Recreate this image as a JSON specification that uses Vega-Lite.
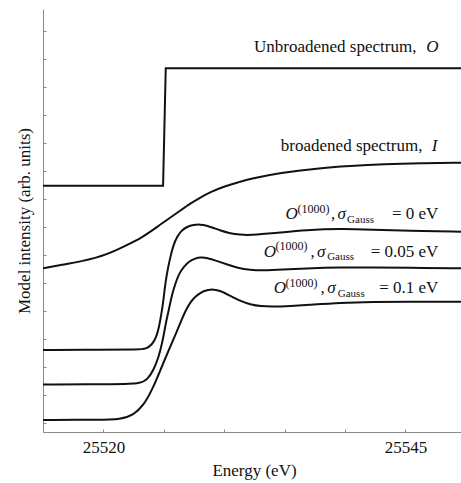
{
  "$schema": "https://vega.github.io/schema/vega-lite/v6.json",
  "width": 418,
  "height": 423,
  "autosize": {"type": "none"},
  "padding": {"left": 43, "top": 9, "right": 0, "bottom": 51},
  "background": "white",
  "config": {
    "view": {"stroke": null},
    "axis": {
      "grid": false,
      "domainColor": "#8a8a8a",
      "tickColor": "#8a8a8a",
      "domainWidth": 1,
      "tickWidth": 1,
      "labelFont": "Liberation Serif",
      "titleFont": "Liberation Serif",
      "labelFontSize": 17,
      "titleFontSize": 17,
      "titleFontWeight": "normal",
      "labelColor": "#111",
      "titleColor": "#111"
    },
    "text": {"font": "Liberation Serif", "color": "#111"}
  },
  "datasets": {
    "step": [
      {"E": 25515.0, "I": 8.469},
      {"E": 25524.94, "I": 8.469},
      {"E": 25525.16, "I": 12.659},
      {"E": 25549.6, "I": 12.659}
    ],
    "curves": [
      {"s": "I", "E": 25515.0, "I": 5.521},
      {"s": "I", "E": 25516.44, "I": 5.639},
      {"s": "I", "E": 25518.1, "I": 5.757},
      {"s": "I", "E": 25520.31, "I": 5.996},
      {"s": "I", "E": 25522.24, "I": 6.413},
      {"s": "I", "E": 25523.06, "I": 6.592},
      {"s": "I", "E": 25523.89, "I": 6.827},
      {"s": "I", "E": 25524.72, "I": 7.084},
      {"s": "I", "E": 25525.55, "I": 7.334},
      {"s": "I", "E": 25526.37, "I": 7.584},
      {"s": "I", "E": 25527.2, "I": 7.834},
      {"s": "I", "E": 25528.03, "I": 8.048},
      {"s": "I", "E": 25528.86, "I": 8.244},
      {"s": "I", "E": 25530.1, "I": 8.458},
      {"s": "I", "E": 25531.34, "I": 8.612},
      {"s": "I", "E": 25532.17, "I": 8.72},
      {"s": "I", "E": 25534.65, "I": 8.93},
      {"s": "I", "E": 25537.69, "I": 9.09},
      {"s": "I", "E": 25540.45, "I": 9.172},
      {"s": "I", "E": 25543.18, "I": 9.235},
      {"s": "I", "E": 25546.24, "I": 9.272},
      {"s": "I", "E": 25549.6, "I": 9.29},
      {"s": "s0", "E": 25515.0, "I": 2.605},
      {"s": "s0", "E": 25519.75, "I": 2.612},
      {"s": "s0", "E": 25523.06, "I": 2.623},
      {"s": "s0", "E": 25523.48, "I": 2.641},
      {"s": "s0", "E": 25524.03, "I": 2.784},
      {"s": "s0", "E": 25524.39, "I": 3.08},
      {"s": "s0", "E": 25524.59, "I": 3.39},
      {"s": "s0", "E": 25524.86, "I": 4.033},
      {"s": "s0", "E": 25525.01, "I": 4.532},
      {"s": "s0", "E": 25525.13, "I": 4.996},
      {"s": "s0", "E": 25525.34, "I": 5.532},
      {"s": "s0", "E": 25525.55, "I": 5.935},
      {"s": "s0", "E": 25525.79, "I": 6.353},
      {"s": "s0", "E": 25526.1, "I": 6.649},
      {"s": "s0", "E": 25526.46, "I": 6.87},
      {"s": "s0", "E": 25526.93, "I": 7.006},
      {"s": "s0", "E": 25527.45, "I": 7.074},
      {"s": "s0", "E": 25528.03, "I": 7.088},
      {"s": "s0", "E": 25528.53, "I": 7.05},
      {"s": "s0", "E": 25529.13, "I": 6.96},
      {"s": "s0", "E": 25529.69, "I": 6.87},
      {"s": "s0", "E": 25530.37, "I": 6.78},
      {"s": "s0", "E": 25531.34, "I": 6.715},
      {"s": "s0", "E": 25532.17, "I": 6.705},
      {"s": "s0", "E": 25534.07, "I": 6.77},
      {"s": "s0", "E": 25536.86, "I": 6.888},
      {"s": "s0", "E": 25539.62, "I": 6.935},
      {"s": "s0", "E": 25542.35, "I": 6.9},
      {"s": "s0", "E": 25545.14, "I": 6.863},
      {"s": "s0", "E": 25549.6, "I": 6.827},
      {"s": "s05", "E": 25515.0, "I": 1.374},
      {"s": "s05", "E": 25521.41, "I": 1.381},
      {"s": "s05", "E": 25523.06, "I": 1.41},
      {"s": "s05", "E": 25523.62, "I": 1.535},
      {"s": "s05", "E": 25524.16, "I": 1.891},
      {"s": "s05", "E": 25524.58, "I": 2.366},
      {"s": "s05", "E": 25524.86, "I": 2.844},
      {"s": "s05", "E": 25525.07, "I": 3.319},
      {"s": "s05", "E": 25525.22, "I": 3.676},
      {"s": "s05", "E": 25525.41, "I": 4.033},
      {"s": "s05", "E": 25525.67, "I": 4.568},
      {"s": "s05", "E": 25525.96, "I": 4.986},
      {"s": "s05", "E": 25526.29, "I": 5.353},
      {"s": "s05", "E": 25526.65, "I": 5.578},
      {"s": "s05", "E": 25527.12, "I": 5.782},
      {"s": "s05", "E": 25527.62, "I": 5.878},
      {"s": "s05", "E": 25528.03, "I": 5.91},
      {"s": "s05", "E": 25528.58, "I": 5.9},
      {"s": "s05", "E": 25529.41, "I": 5.78},
      {"s": "s05", "E": 25530.37, "I": 5.64},
      {"s": "s05", "E": 25531.07, "I": 5.54},
      {"s": "s05", "E": 25532.17, "I": 5.46},
      {"s": "s05", "E": 25533.16, "I": 5.442},
      {"s": "s05", "E": 25534.07, "I": 5.46},
      {"s": "s05", "E": 25536.86, "I": 5.521},
      {"s": "s05", "E": 25539.62, "I": 5.555},
      {"s": "s05", "E": 25542.35, "I": 5.555},
      {"s": "s05", "E": 25545.14, "I": 5.542},
      {"s": "s05", "E": 25549.6, "I": 5.521},
      {"s": "s1", "E": 25515.0, "I": 0.107},
      {"s": "s1", "E": 25519.75, "I": 0.114},
      {"s": "s1", "E": 25521.41, "I": 0.132},
      {"s": "s1", "E": 25522.51, "I": 0.286},
      {"s": "s1", "E": 25523.34, "I": 0.642},
      {"s": "s1", "E": 25524.03, "I": 1.178},
      {"s": "s1", "E": 25524.72, "I": 1.891},
      {"s": "s1", "E": 25525.41, "I": 2.605},
      {"s": "s1", "E": 25526.1, "I": 3.283},
      {"s": "s1", "E": 25526.46, "I": 3.676},
      {"s": "s1", "E": 25526.79, "I": 3.997},
      {"s": "s1", "E": 25527.2, "I": 4.318},
      {"s": "s1", "E": 25527.62, "I": 4.515},
      {"s": "s1", "E": 25528.03, "I": 4.657},
      {"s": "s1", "E": 25528.58, "I": 4.747},
      {"s": "s1", "E": 25529.13, "I": 4.772},
      {"s": "s1", "E": 25529.69, "I": 4.72},
      {"s": "s1", "E": 25530.37, "I": 4.57},
      {"s": "s1", "E": 25531.34, "I": 4.35},
      {"s": "s1", "E": 25532.17, "I": 4.229},
      {"s": "s1", "E": 25533.0, "I": 4.165},
      {"s": "s1", "E": 25534.07, "I": 4.151},
      {"s": "s1", "E": 25535.48, "I": 4.176},
      {"s": "s1", "E": 25536.86, "I": 4.211},
      {"s": "s1", "E": 25539.62, "I": 4.293},
      {"s": "s1", "E": 25542.35, "I": 4.325},
      {"s": "s1", "E": 25545.14, "I": 4.334},
      {"s": "s1", "E": 25549.6, "I": 4.329}
    ],
    "normalRight": [
      {"E": 25545.91, "I": 13.251, "t": "Unbroadened spectrum,"},
      {"E": 25546.41, "I": 9.725, "t": "broadened spectrum,"},
      {"E": 25547.73, "I": 7.263, "t": "= 0 eV"},
      {"E": 25547.73, "I": 5.942, "t": "= 0.05 eV"},
      {"E": 25547.73, "I": 4.622, "t": "= 0.1 eV"}
    ],
    "italicRight": [
      {"E": 25547.73, "I": 13.251, "t": "O"},
      {"E": 25547.65, "I": 9.725, "t": "I"}
    ],
    "italicLeft": [
      {"E": 25535.07, "I": 7.263, "t": "O"},
      {"E": 25533.27, "I": 5.942, "t": "O"},
      {"E": 25534.1, "I": 4.622, "t": "O"},
      {"E": 25539.37, "I": 7.263, "t": "σ"},
      {"E": 25537.69, "I": 5.942, "t": "σ"},
      {"E": 25538.52, "I": 4.622, "t": "σ"}
    ],
    "normalLeft": [
      {"E": 25538.83, "I": 7.263, "t": ","},
      {"E": 25537.14, "I": 5.942, "t": ","},
      {"E": 25537.96, "I": 4.622, "t": ","}
    ],
    "sup": [
      {"E": 25536.06, "I": 7.495, "t": "(1000)"},
      {"E": 25534.24, "I": 6.174, "t": "(1000)"},
      {"E": 25535.07, "I": 4.854, "t": "(1000)"}
    ],
    "sub": [
      {"E": 25540.17, "I": 7.138, "t": "Gauss"},
      {"E": 25538.52, "I": 5.817, "t": "Gauss"},
      {"E": 25539.4, "I": 4.497, "t": "Gauss"}
    ]
  },
  "encoding": {
    "x": {
      "field": "E", "type": "quantitative",
      "scale": {"domain": [25515, 25549.6], "nice": false, "zero": false},
      "axis": {
        "orient": "bottom",
        "values": [25515, 25520, 25525, 25530, 25535, 25540, 25545],
        "format": "d",
        "labelExpr": "datum.value == 25520 || datum.value == 25545 ? datum.label : ''",
        "tickSize": -3,
        "labelPadding": 10,
        "labelFlush": false,
        "title": "Energy (eV)",
        "titleX": 211,
        "titleY": 43,
        "titleBaseline": "alphabetic"
      }
    },
    "y": {
      "field": "I", "type": "quantitative",
      "scale": {"domain": [-0.321, 14.775], "nice": false, "zero": false},
      "axis": {
        "orient": "left",
        "values": [0, 1, 2, 3, 4, 5, 6, 7, 8, 9, 10, 11, 12, 13, 14],
        "labelExpr": "''",
        "tickSize": -3,
        "title": "Model intensity (arb. units)",
        "titleX": -19,
        "titleY": 211.5,
        "titleAngle": -90,
        "titleBaseline": "middle"
      }
    }
  },
  "layer": [
    {
      "data": {"name": "step"},
      "mark": {"type": "line", "color": "#111", "strokeWidth": 2, "clip": true}
    },
    {
      "data": {"name": "curves"},
      "mark": {"type": "line", "color": "#111", "strokeWidth": 2, "interpolate": "basis", "clip": true},
      "encoding": {"detail": {"field": "s", "type": "nominal"}}
    },
    {
      "data": {"name": "normalRight"},
      "mark": {"type": "text", "align": "right", "baseline": "alphabetic", "fontSize": 17},
      "encoding": {"text": {"field": "t"}}
    },
    {
      "data": {"name": "italicRight"},
      "mark": {"type": "text", "align": "right", "baseline": "alphabetic", "fontSize": 17, "fontStyle": "italic"},
      "encoding": {"text": {"field": "t"}}
    },
    {
      "data": {"name": "italicLeft"},
      "mark": {"type": "text", "align": "left", "baseline": "alphabetic", "fontSize": 17, "fontStyle": "italic"},
      "encoding": {"text": {"field": "t"}}
    },
    {
      "data": {"name": "normalLeft"},
      "mark": {"type": "text", "align": "left", "baseline": "alphabetic", "fontSize": 17},
      "encoding": {"text": {"field": "t"}}
    },
    {
      "data": {"name": "sup"},
      "mark": {"type": "text", "align": "left", "baseline": "alphabetic", "fontSize": 12},
      "encoding": {"text": {"field": "t"}}
    },
    {
      "data": {"name": "sub"},
      "mark": {"type": "text", "align": "left", "baseline": "alphabetic", "fontSize": 11},
      "encoding": {"text": {"field": "t"}}
    }
  ]
}
